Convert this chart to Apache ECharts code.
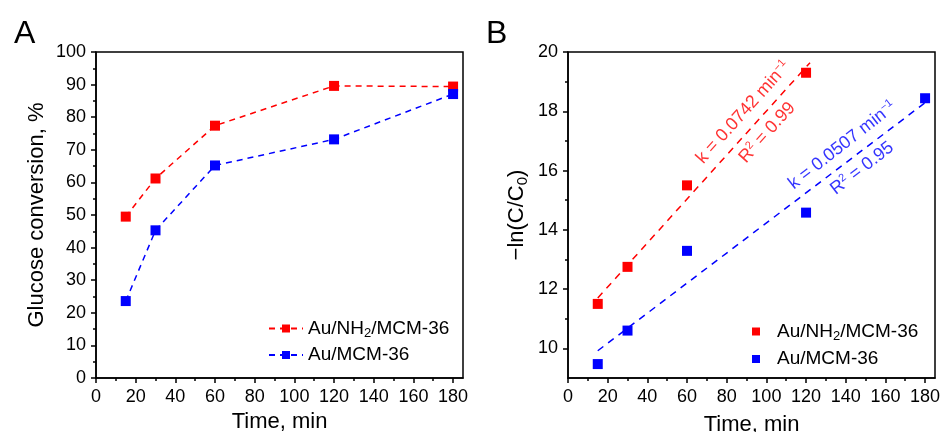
<!DOCTYPE html>
<html>
<head>
<meta charset="utf-8">
<script src="https://cdn.jsdelivr.net/npm/echarts@6/dist/echarts.min.js"></script>
<style>
html,body{margin:0;padding:0;background:#fff;}
#chart{width:941px;height:432px;}
</style>
</head>
<body>
<div id="chart"></div>
<script>
// ---- Data ----
const timeA = [15, 30, 60, 120, 180];
const convNH2 = [49.5, 61.2, 77.4, 89.6, 89.4];
const convMCM = [23.6, 45.3, 65.2, 73.2, 87.1];

const timeB_NH2 = [15, 30, 60, 120];
const lnNH2 = [11.5, 12.75, 15.5, 19.3];
const timeB_MCM = [15, 30, 60, 120, 180];
const lnMCM = [9.47, 10.6, 13.29, 14.58, 18.44];

const fitNH2_x = [15, 122];
const fitNH2_y = [11.7, 19.64];
const fitMCM_x = [15, 180];
const fitMCM_y = [9.92, 18.29];

const xMajor = [0, 20, 40, 60, 80, 100, 120, 140, 160, 180];
const xMinor = [10, 30, 50, 70, 90, 110, 130, 150, 170];
const yMajorA = [0, 10, 20, 30, 40, 50, 60, 70, 80, 90, 100];
const yMinorA = [5, 15, 25, 35, 45, 55, 65, 75, 85, 95];
const yMajorB = [10, 12, 14, 16, 18, 20];
const yMinorB = [11, 13, 15, 17, 19];

const legendNames = ['Au/NH2/MCM-36', 'Au/MCM-36'];
const annotations = [
  {x: 88.4, y: 17.96, text: 'k = 0.0742 min{sup|−1}', color: '#ff0000', rot: 48},
  {x: 100.4, y: 17.28, text: 'R{sup|2} = 0.99', color: '#ff0000', rot: 48},
  {x: 138.3, y: 16.85, text: 'k = 0.0507 min{sup|−1}', color: '#0000ff', rot: 38},
  {x: 148.3, y: 16.07, text: 'R{sup|2} = 0.95', color: '#0000ff', rot: 38}
];

// ---- Helpers ----
const FONT = "'Liberation Sans', Arial, sans-serif";
const RED = '#ff0000', BLUE = '#0000ff';
const zip = (xs, ys) => xs.map((x, i) => [x, ys[i]]);

function mainAxis(grid, pos, min, max, major, name, nameGap, nameRich, labelMargin) {
  return {
    type: 'value', gridIndex: grid, position: pos, min: min, max: max,
    axisLine: {show: true, onZero: false, lineStyle: {color: '#000', width: 1.5}},
    axisTick: {show: true, inside: false, length: 5, customValues: major, lineStyle: {color: '#000', width: 1.5}},
    axisLabel: {show: true, customValues: major, color: '#000', fontSize: 18, fontFamily: FONT, margin: labelMargin},
    splitLine: {show: false},
    name: name, nameLocation: 'middle', nameGap: nameGap,
    nameTextStyle: {color: '#000', fontSize: 22, fontFamily: FONT, rich: nameRich || undefined}
  };
}
function minorAxis(grid, pos, min, max, minor) {
  return {
    type: 'value', gridIndex: grid, position: pos, min: min, max: max,
    axisLine: {show: false, onZero: false},
    axisTick: {show: true, inside: false, length: 3, customValues: minor, lineStyle: {color: '#000', width: 1.5}},
    axisLabel: {show: false},
    splitLine: {show: false}
  };
}

const legendRich = {
  a: {fontSize: 19, fontFamily: FONT, color: '#000', lineHeight: 22},
  sub: {fontSize: 13, fontFamily: FONT, color: '#000', verticalAlign: 'bottom', lineHeight: 22},
  pad: {width: 12}
};
function legendFmt(pad) {
  return function (name) {
    const p = pad ? '{pad| }' : '';
    if (name.indexOf('NH2') >= 0) return p + '{a|Au/NH}{sub|2}{a|/MCM-36}';
    return p + '{a|Au/MCM-36}';
  };
}

const chart = echarts.init(document.getElementById('chart'), null, {renderer: 'canvas'});
const option = {
  animation: false,
  backgroundColor: '#fff',
  textStyle: {fontFamily: FONT},
  grid: [
    {left: 96, top: 52, width: 367, height: 326, show: true, borderColor: '#000', borderWidth: 1.5,
     backgroundColor: 'transparent', containLabel: false, outerBoundsMode: 'none'},
    {left: 568, top: 52, width: 367, height: 326, show: true, borderColor: '#000', borderWidth: 1.5,
     backgroundColor: 'transparent', containLabel: false, outerBoundsMode: 'none'}
  ],
  xAxis: [
    mainAxis(0, 'bottom', 0, 185, xMajor, 'Time, min', 30, null, 10),
    minorAxis(0, 'bottom', 0, 185, xMinor),
    mainAxis(1, 'bottom', 0, 185, xMajor, 'Time, min', 36, null, 10),
    minorAxis(1, 'bottom', 0, 185, xMinor)
  ],
  yAxis: [
    mainAxis(0, 'left', 0, 100, yMajorA, 'Glucose conversion, %', 48, null, 10),
    minorAxis(0, 'left', 0, 100, yMinorA),
    mainAxis(1, 'left', 9, 20, yMajorB, '{a|−ln(C/C}{sub|0}{a|)}', 38, {
      a: {fontSize: 22, fontFamily: FONT, color: '#000', lineHeight: 26},
      sub: {fontSize: 15, fontFamily: FONT, color: '#000', verticalAlign: 'bottom', lineHeight: 26}
    }, 10),
    minorAxis(1, 'left', 9, 20, yMinorB)
  ],
  legend: [
    {
      data: ['A_NH2', 'A_MCM'], orient: 'vertical', left: 263, top: 314,
      itemWidth: 34, itemHeight: 10, itemGap: 6, formatter: legendFmt(false),
      textStyle: {rich: legendRich}, selectedMode: false
    },
    {
      data: ['B_NH2', 'B_MCM'], orient: 'vertical', left: 747, top: 317,
      itemWidth: 8, itemHeight: 8, itemGap: 7, formatter: legendFmt(true),
      textStyle: {rich: legendRich}, selectedMode: false,
      itemStyle: {opacity: 1}
    }
  ],
  graphic: [
    {type: 'text', left: 14, top: 18, style: {text: 'A', fontSize: 32, fontFamily: FONT, fill: '#000'}},
    {type: 'text', left: 486, top: 18, style: {text: 'B', fontSize: 32, fontFamily: FONT, fill: '#000'}}
  ],
  series: [
    {
      name: 'A_NH2', type: 'line', xAxisIndex: 0, yAxisIndex: 0, data: zip(timeA, convNH2),
      symbol: 'rect', symbolSize: 10, itemStyle: {color: RED, opacity: 1},
      lineStyle: {color: RED, width: 1.5, type: [6, 5]}, z: 3
    },
    {
      name: 'A_MCM', type: 'line', xAxisIndex: 0, yAxisIndex: 0, data: zip(timeA, convMCM),
      symbol: 'rect', symbolSize: 10, itemStyle: {color: BLUE, opacity: 1},
      lineStyle: {color: BLUE, width: 1.5, type: [6, 5]}, z: 4
    },
    {
      name: 'fitNH2', type: 'line', xAxisIndex: 2, yAxisIndex: 2, data: zip(fitNH2_x, fitNH2_y),
      symbol: 'none', lineStyle: {color: RED, width: 1.5, type: [7, 6]}, z: 2
    },
    {
      name: 'fitMCM', type: 'line', xAxisIndex: 2, yAxisIndex: 2, data: zip(fitMCM_x, fitMCM_y),
      symbol: 'none', lineStyle: {color: BLUE, width: 1.5, type: [7, 6]}, z: 2
    },
    {
      name: 'B_NH2', type: 'scatter', xAxisIndex: 2, yAxisIndex: 2, data: zip(timeB_NH2, lnNH2),
      symbol: 'rect', symbolSize: 10, itemStyle: {color: RED, opacity: 1}, z: 3
    },
    {
      name: 'B_MCM', type: 'scatter', xAxisIndex: 2, yAxisIndex: 2, data: zip(timeB_MCM, lnMCM),
      symbol: 'rect', symbolSize: 10, itemStyle: {color: BLUE, opacity: 1}, z: 3
    },
    {
      name: 'annot', type: 'scatter', xAxisIndex: 2, yAxisIndex: 2, symbolSize: 0, z: 5,
      data: annotations.map(a => ({
        value: [a.x, a.y],
        label: {
          show: true, position: 'inside', rotate: a.rot, formatter: a.text,
          color: a.color, fontSize: 18, fontFamily: FONT,
          rich: {
            sup: {fontSize: 11, fontFamily: FONT, color: a.color, verticalAlign: 'top', lineHeight: 20}
          }
        }
      }))
    }
  ]
};
chart.setOption(option);
</script>
</body>
</html>
